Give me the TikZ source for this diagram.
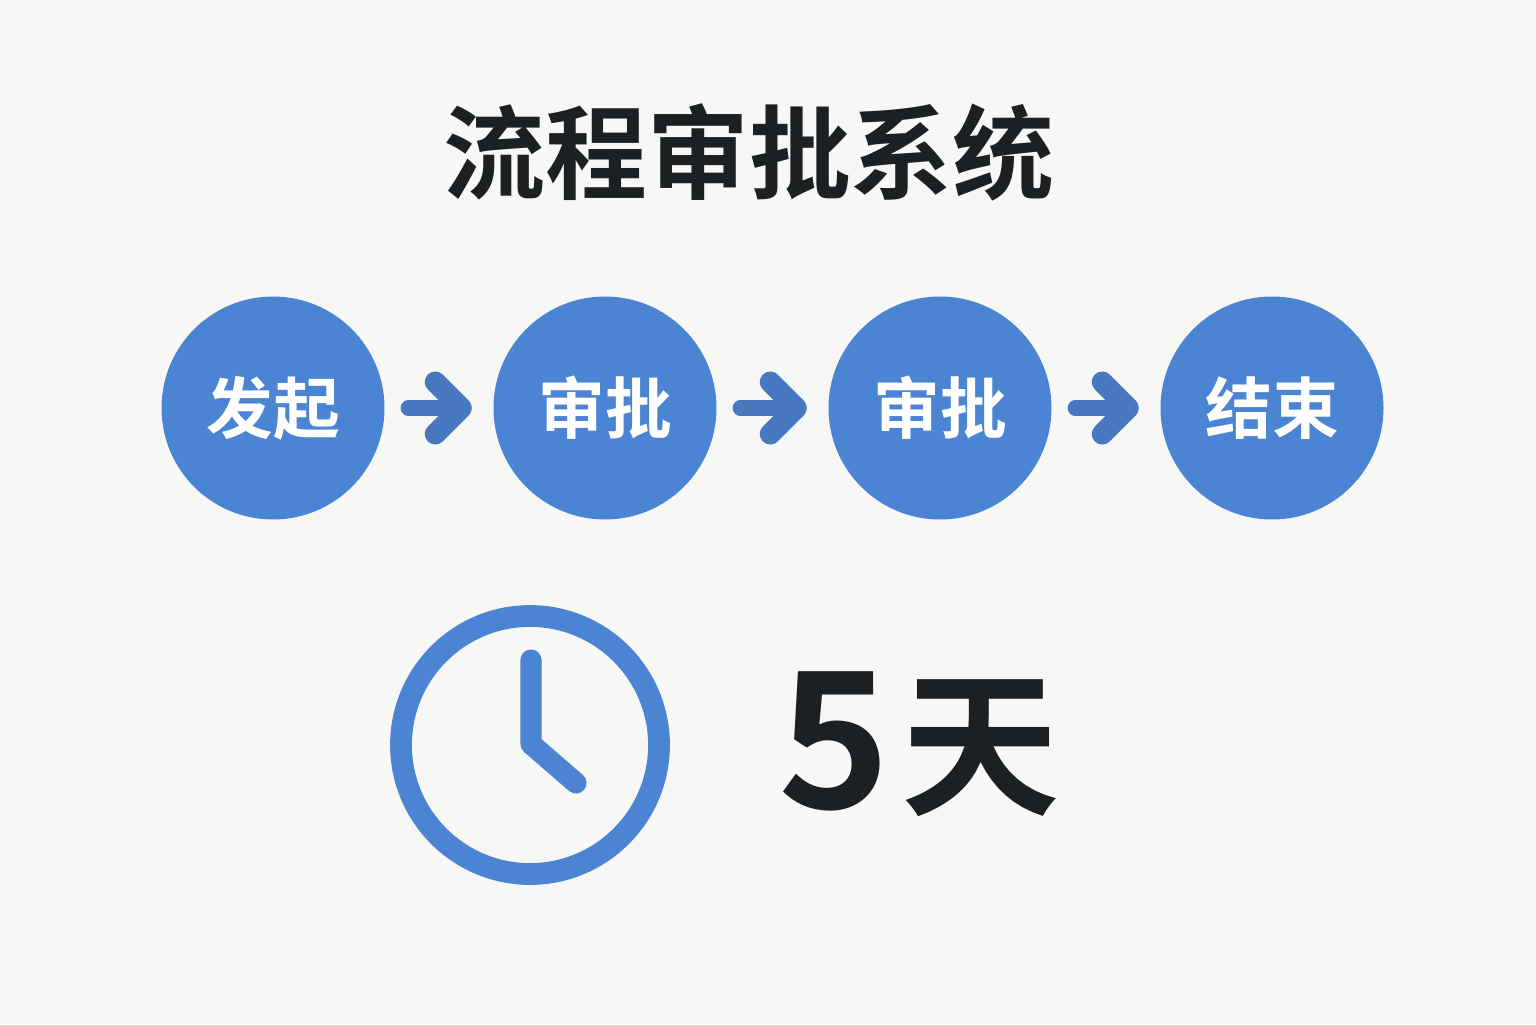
\documentclass[tikz,border=0pt]{standalone}
\usepackage{fontspec}
\newfontfamily\cjk{Noto Sans CJK SC}[BoldFont={Noto Sans CJK SC Bold}]
\usetikzlibrary{arrows.meta}
\definecolor{pagebg}{HTML}{F7F7F5}
\definecolor{stepblue}{HTML}{4A84D2}
\definecolor{arrowblue}{HTML}{4879C0}
\definecolor{inkblack}{HTML}{1C2023}
\tikzset{
  stepnode/.style={circle,fill=stepblue,minimum size=2.23cm,inner sep=0pt,text=white,font=\cjk\bfseries\fontsize{19}{19}\selectfont},
  steparrow/.style={arrowblue,line width=4.3pt,line cap=round,shorten <=0.23cm,shorten >=0.21cm,-{Straight Barb[length=0.26cm,width=0.52cm,round,line width=6pt]}}
}
\begin{document}
\begin{tikzpicture}
  \useasboundingbox[fill=pagebg] (0,0) rectangle (15.36,10.24);
  \node[text=inkblack] (title) at (7.49,8.72) {\cjk\bfseries\fontsize{29}{29}\selectfont 流程审批系统};
  \node[stepnode] (start) at (2.73,6.16) {发起};
  \node[stepnode] (reviewa) at (6.05,6.16) {审批};
  \node[stepnode] (reviewb) at (9.40,6.16) {审批};
  \node[stepnode] (finish) at (12.72,6.16) {结束};
  \draw[steparrow] (start)--(reviewa);
  \draw[steparrow] (reviewa)--(reviewb);
  \draw[steparrow] (reviewb)--(finish);
  % clock
  \node[circle,draw=stepblue,line width=6.2pt,minimum size=2.58cm,inner sep=0pt] (clock) at (5.30,2.79) {};
  \coordinate (hourtip) at (5.31,3.64);
  \coordinate (hub) at (5.31,2.80);
  \coordinate (minutetip) at (5.76,2.41);
  \draw[stepblue,line width=6pt,line cap=round,line join=round] (hourtip)--(hub)--(minutetip);
  \node[text=inkblack] (days) at (8.34,2.83) {\cjk\bfseries\fontsize{54}{54}\selectfont 5};
  \node[text=inkblack] (dayunit) at (9.81,2.76) {\cjk\bfseries\fontsize{45}{45}\selectfont 天};
\end{tikzpicture}
\end{document}
